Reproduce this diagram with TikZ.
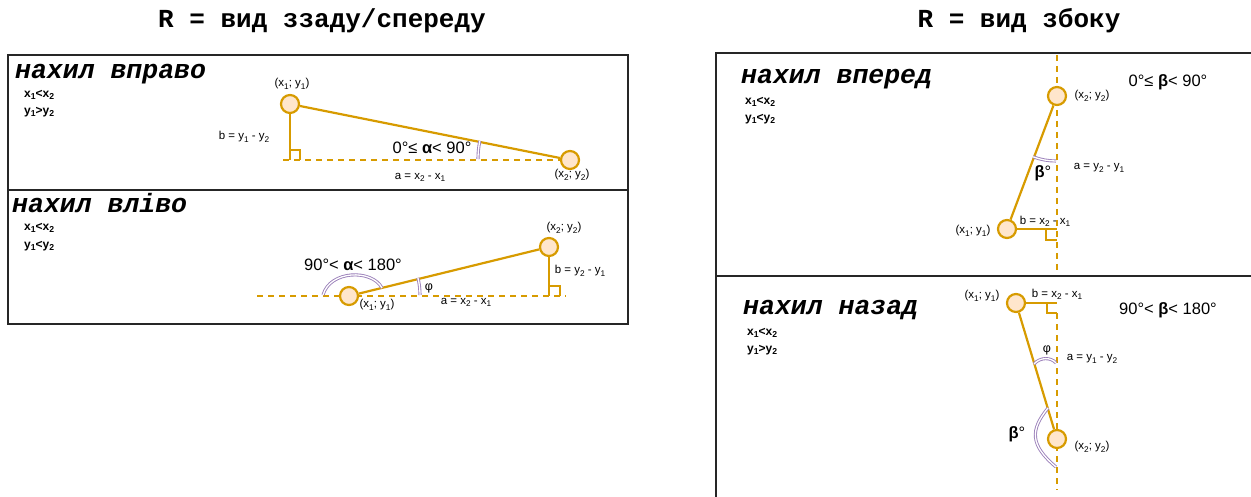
\documentclass[tikz,border=0pt]{standalone}
\usepackage{fontspec}
\setmainfont{Liberation Sans}
\newfontfamily\cour{Liberation Mono}
\definecolor{org}{HTML}{D79B00}
\definecolor{orgfill}{HTML}{FFE6CC}
\definecolor{lav}{HTML}{9B80BA}
\newcommand{\sbs}[1]{\raisebox{-0.35ex}{\scalebox{0.72}{#1}}}
\begin{document}
\begin{tikzpicture}[x=1pt,y=-1pt,
 pt/.style={circle,draw=org,fill=orgfill,line width=2.2pt,minimum size=18pt,inner sep=0pt},
 ol/.style={draw=org,line width=2.2pt},
 dl/.style={draw=org,line width=2.2pt,dash pattern=on 6pt off 5pt},
 ang/.style={draw=lav,line width=0.9pt,double=white,double distance=1.3pt},
 lbl/.style={inner sep=0pt,font=\fontsize{11.5}{13}\selectfont},
 cond/.style={inner sep=0pt,anchor=west,font=\fontsize{12}{15}\selectfont\bfseries},
 big/.style={inner sep=0pt,font=\fontsize{16.5}{19}\selectfont},
 head/.style={inner sep=0pt,anchor=base west,font=\cour\fontsize{26.5}{30}\selectfont\bfseries\itshape},
 ttl/.style={inner sep=0pt,anchor=base,font=\cour\fontsize{26}{30}\selectfont\bfseries},
 panel/.style={draw=black!85,line width=2pt}]
\useasboundingbox (0,0) rectangle (1251,497);
\clip (0,0) rectangle (1251,497);

% titles
\node[ttl] (t1) at (322,28) {R = вид ззаду/спереду};
\node[ttl] (t2) at (1019,28) {R = вид збоку};

% panels
\draw[panel] (8,55) rectangle (628,190);
\draw[panel] (8,190) rectangle (628,324);
\draw[panel] (716,53) rectangle (1262,276);
\draw[panel] (716,276) rectangle (1262,520);

% ---------- panel: нахил вправо ----------
\node[head] (h1) at (15,79) {нахил вправо};
\node[cond] (c11) at (24,95) {x\sbs{1}<x\sbs{2}};
\node[cond] (c12) at (24,112) {y\sbs{1}>y\sbs{2}};
\coordinate (d1s) at (283,160);
\coordinate (d1e) at (570,160);
\draw[dl] (d1s) -- (d1e);
\coordinate (L1c) at (290,160);
\node[pt] (L1a) at (290,104) {};
\node[pt] (L1b) at (570,160) {};
\draw[ol] (L1a) -- (L1b);
\draw[ol] (L1a) -- (L1c);
\draw[ol] (290,150) -- (300,150) -- (300,160);
\draw[ang] (478,159) arc[start angle=180, end angle=191.3, radius=92];
\node[lbl] (l11) at (292,84) {(x\sbs{1}; y\sbs{1})};
\node[lbl] (l12) at (572,175) {(x\sbs{2}; y\sbs{2})};
\node[lbl] (l13) at (244,137) {b = y\sbs{1} - y\sbs{2}};
\node[lbl] (l14) at (420,177) {a = x\sbs{2} - x\sbs{1}};
\node[big] (l15) at (432,148) {0°≤ \textbf{α}< 90°};

% ---------- panel: нахил вліво ----------
\node[head] (h2) at (12,213) {нахил вліво};
\node[cond] (c21) at (24,228) {x\sbs{1}<x\sbs{2}};
\node[cond] (c22) at (24,246) {y\sbs{1}<y\sbs{2}};
\coordinate (d2s) at (257,296);
\coordinate (d2e) at (566,296);
\draw[dl] (d2s) -- (d2e);
\coordinate (L2c) at (549,296);
\node[pt] (L2a) at (349,296) {};
\node[pt] (L2b) at (549,247) {};
\draw[ol] (L2a) -- (L2b);
\draw[ol] (L2b) -- (L2c);
\draw[ol] (549,286) -- (560,286) -- (560,296);
\draw[ang] (420,295) arc[start angle=0, end angle=-14, radius=71];
\draw[ang] (323,295) .. controls (330,270) and (372,269) .. (382,288);
\node[lbl] (l21) at (377,305) {(x\sbs{1}; y\sbs{1})};
\node[lbl] (l22) at (564,228) {(x\sbs{2}; y\sbs{2})};
\node[lbl] (l23) at (580,271) {b = y\sbs{2} - y\sbs{1}};
\node[lbl] (l24) at (466,302) {a = x\sbs{2} - x\sbs{1}};
\node[lbl,font=\fontsize{12.5}{14}\selectfont] (l25) at (429,288) {φ};
\node[big] (l26) at (353,265) {90°< \textbf{α}< 180°};

% ---------- panel: нахил вперед ----------
\node[head] (h3) at (741,84) {нахил вперед};
\node[cond] (c31) at (745,102) {x\sbs{1}<x\sbs{2}};
\node[cond] (c32) at (745,119) {y\sbs{1}<y\sbs{2}};
\coordinate (d3s) at (1057,55);
\coordinate (d3e) at (1057,274);
\draw[dl] (d3s) -- (d3e);
\coordinate (R1c) at (1057,229);
\node[pt] (R1b) at (1057,96) {};
\node[pt] (R1a) at (1007,229) {};
\draw[ol] (R1a) -- (R1b);
\draw[ol] (R1a) -- (R1c);
\draw[ol] (1046,229) -- (1046,240) -- (1057,240);
\draw[ang] (1056,161) arc[start angle=90, end angle=110.6, radius=65];
\node[lbl] (l31) at (973,231) {(x\sbs{1}; y\sbs{1})};
\node[lbl] (l32) at (1092,96) {(x\sbs{2}; y\sbs{2})};
\node[lbl] (l33) at (1045,221) {b = x\sbs{2} - x\sbs{1}};
\node[lbl] (l34) at (1099,168) {a = y\sbs{2} - y\sbs{1}};
\node[big] (l35) at (1043,173) {\textbf{β}°};
\node[big] (l36) at (1168,82) {0°≤ \textbf{β}< 90°};

% ---------- panel: нахил назад ----------
\node[head] (h4) at (743,314) {нахил назад};
\node[cond] (c41) at (747,333) {x\sbs{1}<x\sbs{2}};
\node[cond] (c42) at (747,350) {y\sbs{1}>y\sbs{2}};
\coordinate (d4s) at (1057,313);
\coordinate (d4e) at (1057,490);
\draw[dl] (d4s) -- (d4e);
\coordinate (R2c) at (1057,303);
\node[pt] (R2a) at (1016,303) {};
\node[pt] (R2b) at (1057,439) {};
\draw[ol] (R2a) -- (R2b);
\draw[ol] (R2a) -- (R2c);
\draw[ol] (1047,303) -- (1047,313) -- (1057,313);
\draw[ang] (1034,364) .. controls (1040,357) and (1051,357) .. (1056,363);
\draw[ang] (1048,408) .. controls (1030,430) and (1030,445) .. (1056,467);
\node[lbl] (l41) at (982,296) {(x\sbs{1}; y\sbs{1})};
\node[lbl] (l42) at (1092,447) {(x\sbs{2}; y\sbs{2})};
\node[lbl] (l43) at (1057,294) {b = x\sbs{2} - x\sbs{1}};
\node[lbl] (l44) at (1092,359) {a = y\sbs{1} - y\sbs{2}};
\node[lbl,font=\fontsize{12.5}{14}\selectfont] (l45) at (1047,350) {φ};
\node[big] (l46) at (1017,434) {\textbf{β}°};
\node[big] (l47) at (1168,310) {90°< \textbf{β}< 180°};
\end{tikzpicture}
\end{document}
